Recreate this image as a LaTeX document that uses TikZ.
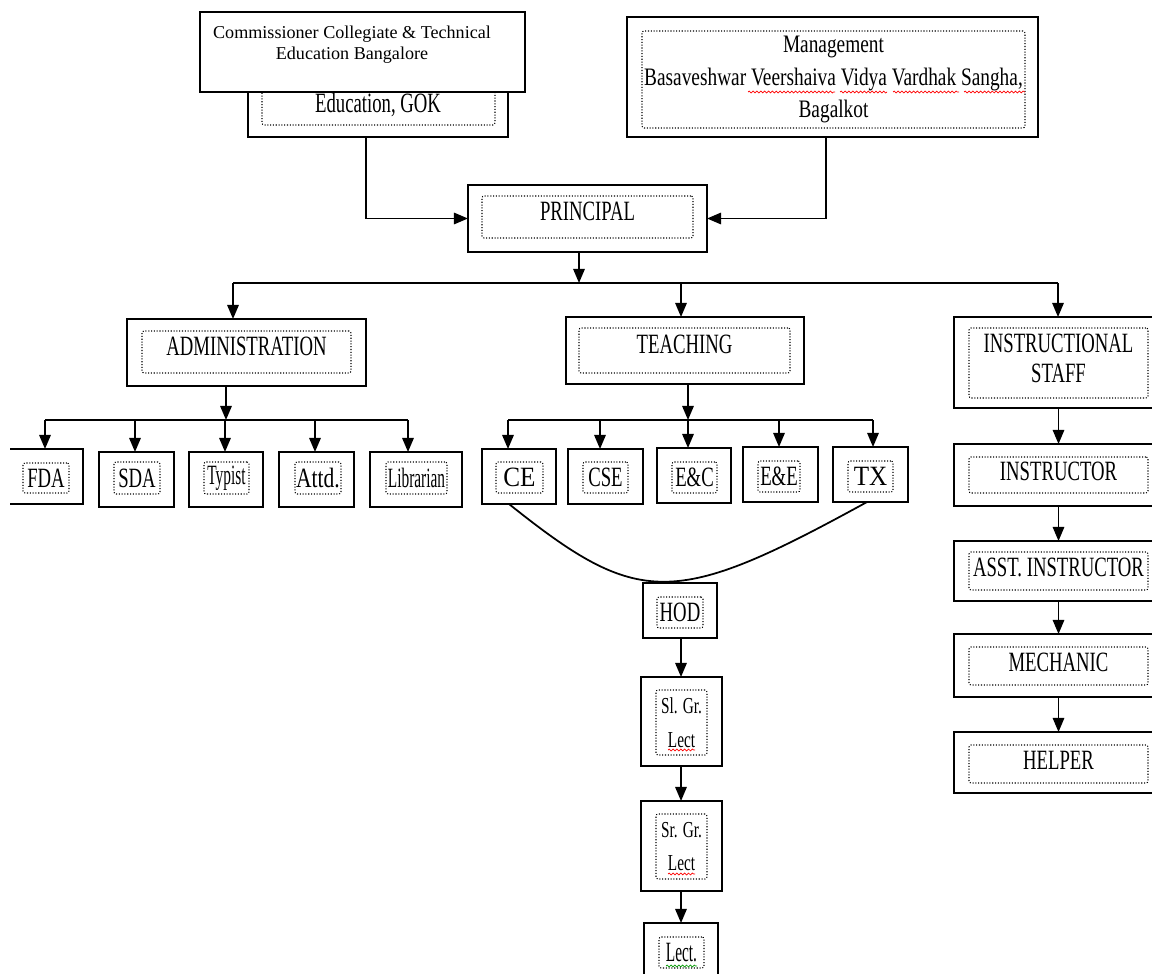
\documentclass[tikz,border=0pt]{standalone}
\usepackage{fontspec}
\setmainfont{Liberation Serif}
\newfontfamily\fa[FakeStretch=0.67]{Liberation Serif}
\newfontfamily\fb[FakeStretch=0.55]{Liberation Serif}
\newfontfamily\fc[FakeStretch=0.77]{Liberation Serif}
\newfontfamily\fd[FakeStretch=0.9]{Liberation Serif}
\usetikzlibrary{arrows.meta,decorations.pathmorphing}
\newcommand\szL{\fontsize{15.9pt}{17pt}\selectfont}
\begin{document}
\begin{tikzpicture}[x=0.02cm,y=-0.02cm,
 rc/.style args={#1/#2/#3/#4}{minimum width={(#3-#1)*0.02cm},minimum height={(#4-#2)*0.02cm},at={({(#1+#3)/2},{(#2+#4)/2})}},
 obox/.style={draw,line width=1.1pt,fill=white,inner sep=0pt,outer sep=0pt,rc=#1},
 ibox/.style={draw,densely dotted,line width=0.6pt,rounded corners=1.2pt,inner sep=0pt,outer sep=0pt,align=center,font=\fa\szL,rc=#1},
 up/.style={text depth=#1},
 conn/.style={line width=1pt},
 arr/.style={conn,-{Triangle[length=8pt,width=6.5pt]}},
 wv/.style={draw=#1,line width=0.4pt,decorate,decoration={snake,amplitude=0.55pt,segment length=2.2pt}}]
\useasboundingbox (0,0) rectangle (1152,973);
\begin{scope}
\clip (10,0) rectangle (1152,973);
% top left (behind)
\node[obox=248/40/508/137] (edu) {};
\node[ibox=262/50/495/125] (eduin) {};
\node[font=\fa\szL, inner sep=0pt, anchor=base] (edut) at (378,113) {Education, GOK};
% commissioner box on top
\node[obox=200/12/525/92] (comm) {};
\node[font=\fontsize{10.3pt}{11.9pt}\selectfont, align=center, inner sep=0pt] (commt) at (352,45) {Commissioner Collegiate \& Technical\\Education Bangalore};
% management
\node[obox=627/17/1038/137] (mgmt) {};
\node[ibox=642/31/1025/128, font=\fc\fontsize{14.3pt}{18.7pt}\selectfont] (mgmtin) {Management\\Basaveshwar Veershaiva Vidya Vardhak Sangha,\\Bagalkot};
\path[wv=red] (748,92) -- (835,92);
\path[wv=red] (840,92) -- (887,92);
\path[wv=red] (893,92) -- (959,92);
\path[wv=red] (964,92) -- (1025,92);
% principal
\node[obox=468/185/707/252] (prin) {};
\node[ibox=482/196/693/238, up=6.8pt] (prinin) {PRINCIPAL};
% second level
\node[obox=127/319/366/386] (adm) {};
\node[ibox=142/331/351/373, up=6.8pt] (admin) {ADMINISTRATION};
\node[obox=566/317/804/384] (teach) {};
\node[ibox=579/328/790/373, up=6.8pt] (teachin) {TEACHING};
\node[obox=954/317/1163/408] (instr) {};
\node[ibox=969/328/1148/398, up=5.7pt] (instrin) {INSTRUCTIONAL\\STAFF};
% admin row
\node[obox=6/449/83/504] (fda) {};
\node[ibox=23/463/69/493] (fdain) {FDA};
\node[obox=99/452/174/507] (sda) {};
\node[ibox=114/462/160/494] (sdain) {SDA};
\node[obox=189/452/263/507] (typ) {};
\node[ibox=204/462/249/494, font=\fb\szL] (typin) {Typist};
\node[obox=279/452/354/507] (att) {};
\node[ibox=295/462/341/494, font=\fc\szL] (attin) {Attd.};
\node[obox=370/452/462/507] (lib) {};
\node[ibox=386/462/447/494, font=\fb\szL] (libin) {Librarian};
% teaching row
\node[obox=482/449/556/504] (ce) {};
\node[ibox=496/462/543/493, font=\fd\szL] (cein) {CE};
\node[obox=568/449/643/504] (cse) {};
\node[ibox=583/462/628/493] (csein) {CSE};
\node[obox=657/448/731/503] (ec) {};
\node[ibox=672/462/717/493] (ecin) {E\&C};
\node[obox=743/447/818/502] (ee) {};
\node[ibox=758/461/800/492] (eein) {E\&E};
\node[obox=833/447/908/502] (tx) {};
\node[ibox=848/461/893/492, font=\fd\szL] (txin) {TX};
% teaching chain
\node[obox=643/583/717/638] (hod) {};
\node[ibox=657/597/703/628] (hodin) {HOD};
\node[obox=641/677/722/766] (slgr) {};
\node[ibox=656/690/707/755, font=\fa\fontsize{13pt}{19pt}\selectfont] (slgrin) {Sl. Gr.\\Lect};
\path[wv=red] (668,750) -- (695,750);
\node[obox=641/801/722/891] (srgr) {};
\node[ibox=656/814/707/879, font=\fa\fontsize{13pt}{19pt}\selectfont] (srgrin) {Sr. Gr.\\Lect};
\path[wv=red] (668,874) -- (695,874);
\node[obox=644/923/718/990] (lect) {};
\node[ibox=659/937/704/968, font=\fb\szL] (lectin) {Lect.};
\path[wv=green!60!black] (666,966) -- (697,966);
% instructional chain
\node[obox=954/444/1163/506] (inst) {};
\node[ibox=969/457/1148/493, up=4pt] (instin) {INSTRUCTOR};
\node[obox=954/541/1163/601] (asst) {};
\node[ibox=969/552/1148/590, up=4pt] (asstin) {ASST. INSTRUCTOR};
\node[obox=954/634/1163/697] (mech) {};
\node[ibox=969/647/1148/685, up=4pt] (mechin) {MECHANIC};
\node[obox=954/732/1163/793] (help) {};
\node[ibox=969/745/1148/783, up=4pt] (helpin) {HELPER};
% connectors top
\coordinate (jl) at (366,216);
\coordinate (jr) at (826,216);
\draw[arr] (edu.south -| jl) |- (prin.west);
\draw[arr] (mgmt.south -| jr) |- (prin.east);
\coordinate (pb) at (579,283);
\draw[arr] (prin.south -| pb) -- (pb);
\coordinate (bl) at (233,283);
\coordinate (bt) at (681,283);
\coordinate (br) at (1058,283);
\draw[conn] (bl) -- (br);
\draw[arr] (bl) -- (bl |- adm.north);
\draw[arr] (bt) -- (bt |- teach.north);
\draw[arr] (br) -- (br |- instr.north);
% admin bus
\coordinate (ab) at (226,420);
\coordinate (ab1) at (45,420);
\coordinate (ab2) at (135,420);
\coordinate (ab3) at (225,420);
\coordinate (ab4) at (315,420);
\coordinate (ab5) at (408,420);
\draw[arr] (adm.south -| ab) -- (ab);
\draw[conn] (ab1) -- (ab5);
\draw[arr] (ab1) -- (ab1 |- fda.north);
\draw[arr] (ab2) -- (ab2 |- sda.north);
\draw[arr] (ab3) -- (ab3 |- typ.north);
\draw[arr] (ab4) -- (ab4 |- att.north);
\draw[arr] (ab5) -- (ab5 |- lib.north);
% teaching bus
\coordinate (tb) at (688,420);
\coordinate (tb1) at (508,420);
\coordinate (tb2) at (600,420);
\coordinate (tb3) at (688,420);
\coordinate (tb4) at (779,420);
\coordinate (tb5) at (873,420);
\draw[arr] (teach.south -| tb) -- (tb);
\draw[conn] (tb1) -- (tb5);
\draw[arr] (tb1) -- (tb1 |- ce.north);
\draw[arr] (tb2) -- (tb2 |- cse.north);
\draw[arr] (tb3) -- (tb3 |- ec.north);
\draw[arr] (tb4) -- (tb4 |- ee.north);
\draw[arr] (tb5) -- (tb5 |- tx.north);
% curve
\coordinate (cl) at (509,504);
\coordinate (cr) at (867,502);
\draw[conn] (ce.south -| cl) .. controls (639,608) and (674,608) .. (tx.south -| cr);
% chains
\coordinate (vx) at (681,0);
\draw[arr] (hod.south -| vx) -- (slgr.north -| vx);
\draw[arr] (slgr.south -| vx) -- (srgr.north -| vx);
\draw[arr] (srgr.south -| vx) -- (lect.north -| vx);
\draw[arr] (instr.south) -- (inst.north);
\draw[arr] (inst.south) -- (asst.north);
\draw[arr] (asst.south) -- (mech.north);
\draw[arr] (mech.south) -- (help.north);
\end{scope}
\end{tikzpicture}
\end{document}
